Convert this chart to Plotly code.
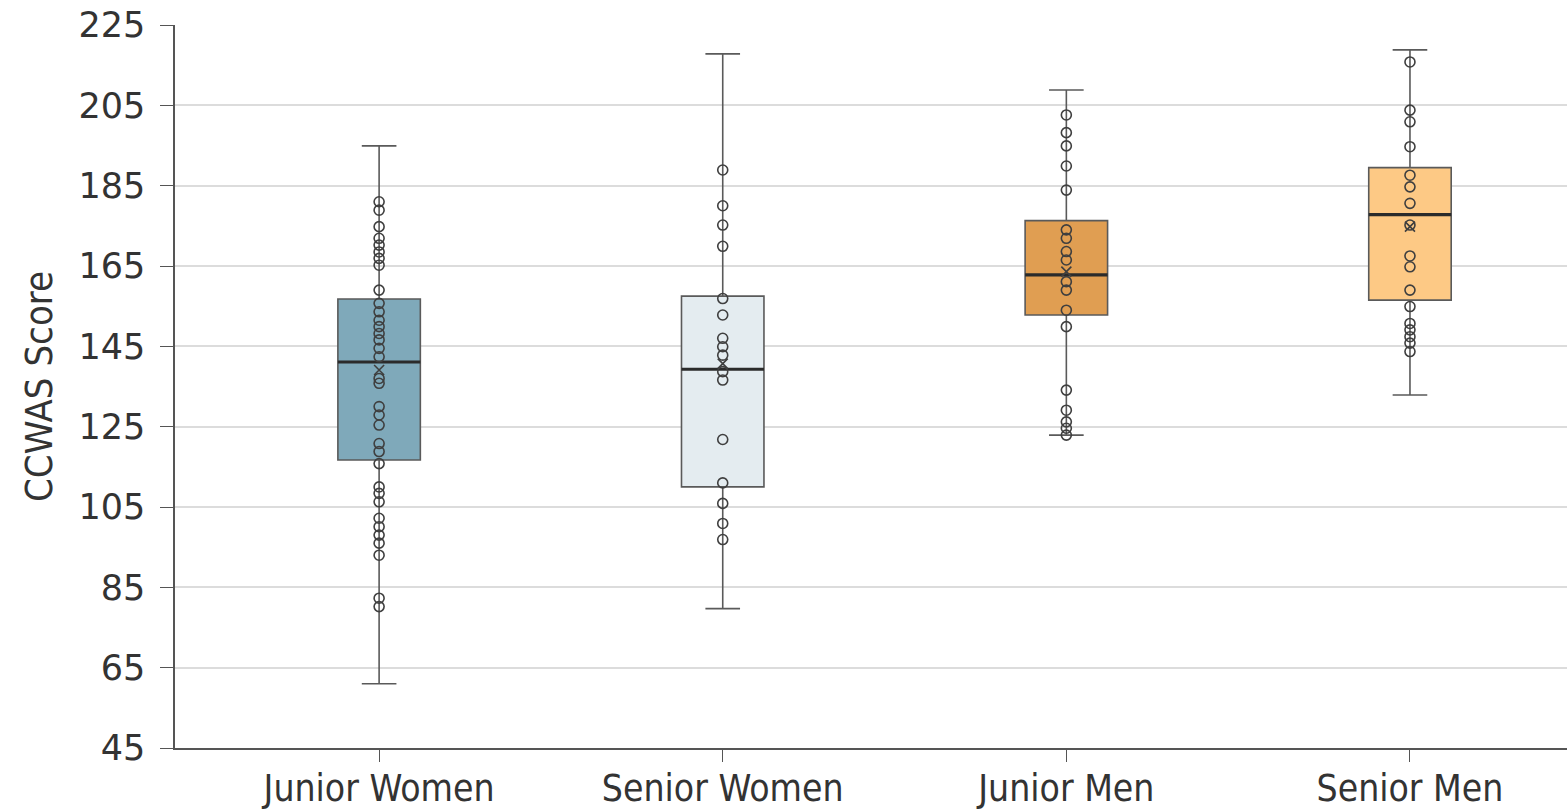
import plotly.graph_objects as go

categories = ["Junior Women", "Senior Women", "Junior Men", "Senior Men"]
box_colors = ["#7FA9BA", "#E4ECF0", "#E09E52", "#FDC985"]

q1 = [116.7, 110.0, 152.8, 156.5]
median = [141.1, 139.3, 162.8, 177.8]
q3 = [156.8, 157.5, 176.3, 189.5]
lower = [61.0, 79.7, 122.9, 132.9]
upper = [194.9, 217.8, 208.8, 218.8]
means = [139.1, 140.7, 163.6, 174.8]

points = [
    [181.0, 178.9, 174.8, 171.9, 170.2, 168.5, 166.9, 165.2, 159.0, 155.7, 153.6,
     151.5, 149.9, 148.2, 146.6, 144.5, 142.4, 137.0, 135.8, 130.0, 127.9, 125.4,
     120.8, 118.8, 115.8, 110.0, 108.4, 106.3, 102.2, 100.1, 98.0, 96.0, 93.0,
     82.3, 80.2],
    [188.9, 180.0, 175.2, 169.9, 156.9, 152.8, 147.0, 144.9, 142.8, 138.7, 136.6,
     121.8, 111.0, 105.9, 100.9, 96.9],
    [202.6, 198.2, 194.9, 189.9, 183.9, 174.0, 171.9, 168.6, 166.5, 161.1, 159.0,
     154.0, 149.9, 134.1, 129.1, 126.2, 124.6, 122.9],
    [215.8, 203.8, 200.9, 194.7, 187.6, 184.7, 180.6, 175.2, 167.5, 164.8, 159.0,
     154.9, 150.7, 149.1, 147.4, 145.8, 143.7],
]

yticks = [45, 65, 85, 105, 125, 145, 165, 185, 205, 225]

BOX_W = 0.24
LINE = "#5a5a5a"
PT = "#3f3f3f"
NARROW = "DejaVu Sans Condensed, Liberation Sans Narrow, DejaVu Sans, sans-serif"

fig = go.Figure()
for i, cat in enumerate(categories):
    fig.add_trace(go.Box(
        x=[i], q1=[q1[i]], median=[median[i]], q3=[q3[i]],
        lowerfence=[lower[i]], upperfence=[upper[i]],
        fillcolor=box_colors[i], line=dict(color=LINE, width=1.6),
        width=BOX_W, whiskerwidth=0.42, boxpoints=False, showlegend=False,
        hoverinfo="skip",
    ))
    fig.add_trace(go.Scatter(
        x=[i - BOX_W / 2, i + BOX_W / 2], y=[median[i], median[i]],
        mode="lines", line=dict(color="#2b2b2b", width=3.2),
        showlegend=False, hoverinfo="skip",
    ))
    fig.add_trace(go.Scatter(
        x=[i] * len(points[i]), y=points[i], mode="markers",
        marker=dict(symbol="circle-open", size=10, color=PT,
                    line=dict(width=1.6, color=PT)),
        showlegend=False, hoverinfo="skip",
    ))
    fig.add_trace(go.Scatter(
        x=[i], y=[means[i]], mode="markers",
        marker=dict(symbol="x-thin-open", size=10, color=PT,
                    line=dict(width=1.6, color=PT)),
        showlegend=False, hoverinfo="skip",
    ))

fig.update_layout(
    width=1567, height=812,
    margin=dict(l=175, r=0, t=25, b=64),
    paper_bgcolor="white", plot_bgcolor="white",
    xaxis=dict(
        range=[-0.594, 3.457], tickvals=list(range(len(categories))),
        ticktext=categories, showgrid=False, zeroline=False, automargin=False,
        showline=True, linecolor="#555555", linewidth=1.6,
        ticks="outside", ticklen=12, tickcolor="#555555", tickwidth=1.2,
        ticklabelstandoff=-5,
        tickfont=dict(family=NARROW, size=37, color="#333333"),
    ),
    yaxis=dict(
        range=[45, 225], tickvals=yticks, showgrid=True, automargin=False,
        gridcolor="#dcdcdc", gridwidth=2, zeroline=False,
        showline=True, linecolor="#555555", linewidth=1.6,
        ticks="outside", ticklen=13, tickcolor="#555555", tickwidth=1.2,
        ticklabelstandoff=8,
        tickfont=dict(family="DejaVu Sans", size=35, color="#333333"),
        title=dict(text="CCWAS Score", standoff=14,
                   font=dict(family=NARROW, size=38, color="#333333")),
    ),
)

fig.write_html(
    "out.html",
    config={"displayModeBar": False},
    post_script="document.body.style.margin='0';document.body.style.padding='0';"
                "document.documentElement.style.overflow='hidden';",
)
